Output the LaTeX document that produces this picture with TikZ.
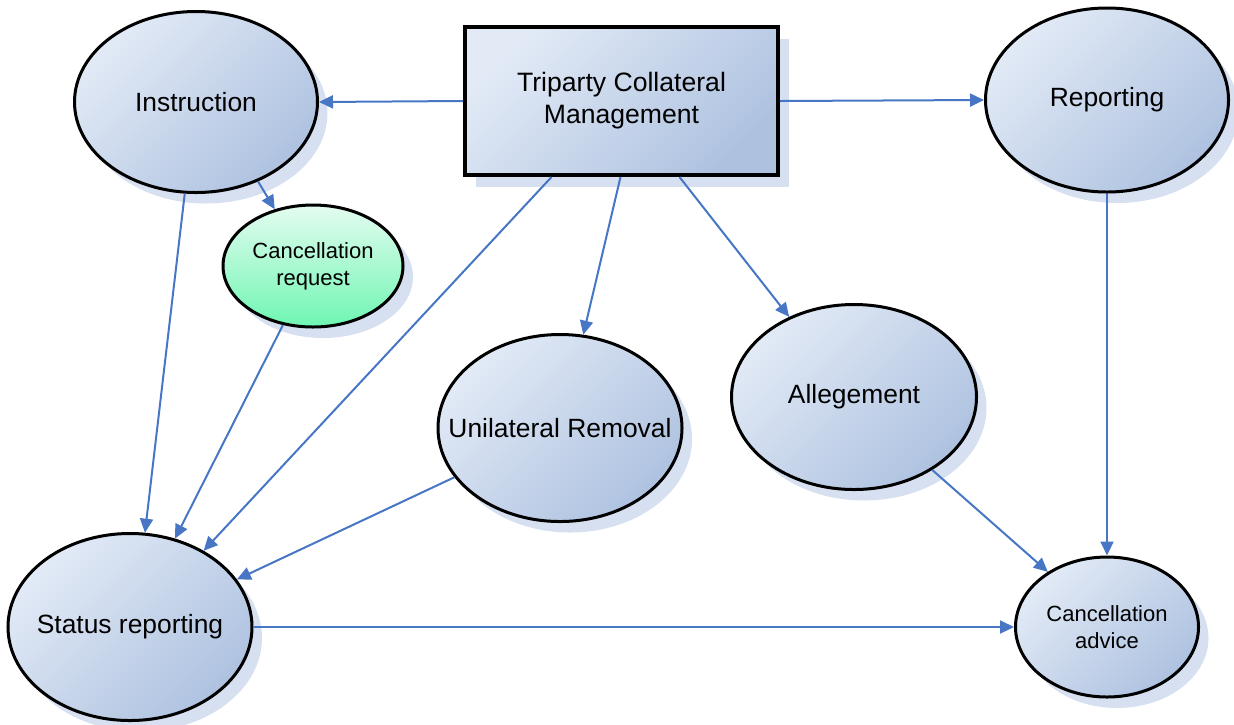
\documentclass[tikz,border=0pt]{standalone}
\usepackage{fontspec}
\setmainfont{Liberation Sans}
\usetikzlibrary{shapes.geometric,arrows.meta,shadows}
\definecolor{blight}{RGB}{226,234,246}
\definecolor{bdark}{RGB}{174,194,224}
\definecolor{glight}{RGB}{228,252,240}
\definecolor{gdark}{RGB}{110,246,178}
\definecolor{shadowc}{RGB}{214,224,240}
\definecolor{arrowc}{RGB}{70,118,196}
\tikzset{
  bubtext/.style={font=\fontsize{13.2}{16}\selectfont, align=center, inner sep=0pt},
  smalltext/.style={font=\fontsize{11}{13.5}\selectfont},
  bubble/.style={ellipse, draw=black, line width=1.5pt, inner sep=0pt,
    shading=axis, top color=blight, bottom color=bdark, shading angle=45,
    drop shadow={shadow xshift=5pt, shadow yshift=-5.5pt, fill=shadowc, opacity=1}},
  greenbubble/.style={bubble, top color=glight, bottom color=gdark},
  mainbox/.style={rectangle, draw=black, line width=2pt, inner sep=0pt,
    shading=axis, top color=blight, bottom color=bdark, shading angle=45,
    drop shadow={shadow xshift=5.5pt, shadow yshift=-6pt, fill=shadowc, opacity=1},
    font=\fontsize{13.3}{16}\selectfont, align=center},
  conn/.style={draw=arrowc, line width=1pt, -{Triangle[length=7pt,width=6.5pt]}}
}
\begin{document}
\begin{tikzpicture}[x=0.5pt,y=-0.5pt]
\useasboundingbox (0,0) rectangle (1234,724);
\node[mainbox, minimum width=156.5pt, minimum height=74pt] (tcm) at (621.5,101) {Triparty Collateral\\Management};
\node[bubble, minimum width=121.5pt, minimum height=90.5pt,
  label={[bubtext]center:Instruction}] (instr) at (196,102) {};
\node[bubble, minimum width=121.5pt, minimum height=92pt,
  label={[bubtext]center:Reporting}] (rep) at (1107,100) {};
\node[greenbubble, minimum width=90pt, minimum height=61pt,
  label={[bubtext,smalltext]center:{Cancellation\\request}}] (creq) at (313,266) {};
\node[bubble, minimum width=122pt, minimum height=93.5pt,
  label={[bubtext]center:Unilateral Removal}] (unil) at (560,428) {};
\node[bubble, minimum width=122.5pt, minimum height=92.5pt,
  label={[bubtext]center:Allegement}] (alleg) at (854,397) {};
\node[bubble, minimum width=122pt, minimum height=93.5pt,
  label={[bubtext]center:Status reporting}] (stat) at (130,627) {};
\node[bubble, minimum width=91.5pt, minimum height=70pt,
  label={[bubtext,smalltext]center:{Cancellation\\advice}}] (cadv) at (1107,627) {};

\coordinate (tcmA) at ([xshift=-35pt]tcm.south);
\coordinate (tcmB) at ([xshift=-0.5pt]tcm.south);
\coordinate (tcmC) at ([xshift=29pt]tcm.south);

\draw[conn] (tcm.west) -- (instr.east);
\draw[conn] (tcm.east) -- (rep.west);
\draw[conn] (instr.-52) -- (creq.124);
\draw[conn] (instr.-97) -- (stat.81);
\draw[conn] (creq.-117) -- (stat.63);
\draw[conn] (tcmA) -- (stat.46.5);
\draw[conn] (tcmB) -- (unil.76);
\draw[conn] (tcmC) -- (alleg.129);
\draw[conn] (unil.-155) -- (stat.24.4);
\draw[conn] (rep.south) -- (cadv.north);
\draw[conn] (alleg.-43) -- (cadv.137.5);
\draw[conn] (stat.east) -- (cadv.west);
\end{tikzpicture}
\end{document}
